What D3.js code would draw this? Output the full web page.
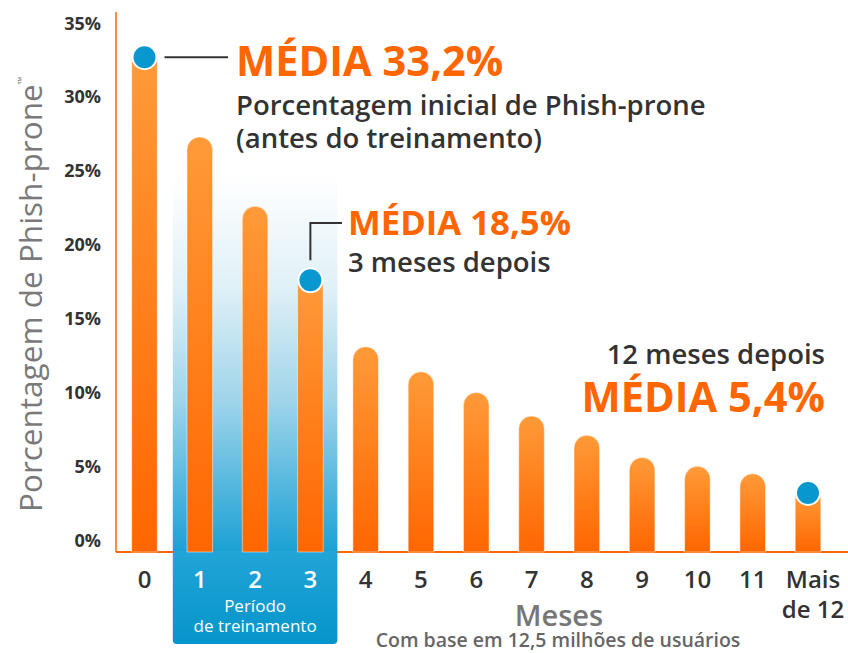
<!DOCTYPE html>
<html>
<head>
<meta charset="utf-8">
<script src="https://cdn.jsdelivr.net/npm/d3@7"></script>
<style>
  body { margin: 0; background: #fff; }
  svg { display: block; font-family: "Open Sans", sans-serif; }
</style>
</head>
<body>
<div id="chart"></div>
<script>
// Data
const months = ['0', '1', '2', '3', '4', '5', '6', '7', '8', '9', '10', '11', 'Mais de 12'];
const phishProne = [33.5, 28.1, 23.4, 18.4, 13.9, 12.2, 10.8, 9.2, 7.9, 6.4, 5.8, 5.3, 4.0];
const yTicks = [0, 5, 10, 15, 20, 25, 30, 35];
const trainingMonths = ['1', '2', '3'];
const markedMonths = ['0', '3', 'Mais de 12'];

const width = 848, height = 653;
const orange = '#ff6600';
const blue = '#0898cf';
const dark = '#333333';

const svg = d3.select('#chart')
    .append('svg')
    .attr('width', width)
    .attr('height', height);

const defs = svg.append('defs');

// bar gradient
const barGrad = defs.append('linearGradient')
    .attr('id', 'barGrad')
    .attr('x1', 0).attr('y1', 0).attr('x2', 0).attr('y2', 1);
barGrad.append('stop').attr('offset', '0%').attr('stop-color', '#ff9a38');
barGrad.append('stop').attr('offset', '100%').attr('stop-color', '#ff6600');

// scales
const x = d3.scalePoint()
    .domain(months)
    .range([144.5, 808]);
const y = d3.scaleLinear()
    .domain([0, 35])
    .range([552, 35]);

const barW = 25.6;
const baseY = y(0);

// training period highlight
const hlLeft = x('1') - 27;
const hlRight = x('3') + 27;
const hlTop = 176;

const hlGrad = defs.append('linearGradient')
    .attr('id', 'hlGrad')
    .attr('gradientUnits', 'userSpaceOnUse')
    .attr('x1', 0).attr('y1', hlTop).attr('x2', 0).attr('y2', baseY);
hlGrad.append('stop').attr('offset', '0%').attr('stop-color', '#ffffff');
hlGrad.append('stop').attr('offset', '30%').attr('stop-color', '#dff0f7');
hlGrad.append('stop').attr('offset', '60%').attr('stop-color', '#9fd4ea');
hlGrad.append('stop').attr('offset', '100%').attr('stop-color', '#1ba0d4');

svg.append('rect')
    .attr('x', hlLeft)
    .attr('y', hlTop)
    .attr('width', hlRight - hlLeft)
    .attr('height', baseY - hlTop)
    .attr('fill', 'url(#hlGrad)');

// axes lines
svg.append('line')
    .attr('x1', 116).attr('x2', 116)
    .attr('y1', 12).attr('y2', baseY)
    .attr('stroke', orange).attr('stroke-width', 1.5);
svg.append('line')
    .attr('x1', 116).attr('x2', width)
    .attr('y1', baseY).attr('y2', baseY)
    .attr('stroke', orange).attr('stroke-width', 2);

// box under the training months
const boxGrad = defs.append('linearGradient')
    .attr('id', 'boxGrad')
    .attr('x1', 0).attr('y1', 0).attr('x2', 0).attr('y2', 1);
boxGrad.append('stop').attr('offset', '0%').attr('stop-color', '#22a4d7');
boxGrad.append('stop').attr('offset', '100%').attr('stop-color', '#0595ca');

const boxBottom = 644, r = 4;
svg.append('path')
    .attr('d', `M${hlLeft},${baseY - 1} H${hlRight} V${boxBottom - r}
        Q${hlRight},${boxBottom} ${hlRight - r},${boxBottom} H${hlLeft + r}
        Q${hlLeft},${boxBottom} ${hlLeft},${boxBottom - r} Z`)
    .attr('fill', 'url(#boxGrad)');

// bars with rounded tops (flat top where a dot sits)
function barPath(d, i) {
    const cx = x(months[i]);
    const l = cx - barW / 2, rr = cx + barW / 2;
    const top = y(d);
    if (markedMonths.includes(months[i])) {
        return `M${l},${baseY} V${top} H${rr} V${baseY} Z`;
    }
    const rad = barW / 2;
    return `M${l},${baseY} V${top + rad} A${rad},${rad} 0 0 1 ${rr},${top + rad} V${baseY} Z`;
}

svg.append('g')
    .selectAll('path')
    .data(phishProne)
    .join('path')
    .attr('d', barPath)
    .attr('fill', 'url(#barGrad)')
    .attr('stroke', '#fff')
    .attr('stroke-opacity', 0.6)
    .attr('stroke-width', 0.8);

// y axis tick labels
const yAxis = svg.append('g')
    .attr('transform', 'translate(101,0)')
    .call(d3.axisLeft(y).tickValues(yTicks).tickSize(0).tickFormat(d => d + '%'));
yAxis.select('.domain').remove();
yAxis.selectAll('text')
    .attr('x', 0)
    .attr('dy', -6)
    .attr('font-family', '"Open Sans", sans-serif')
    .attr('font-size', 18)
    .attr('font-weight', 700)
    .attr('fill', dark);

// y axis title
const yTitle = svg.append('text')
    .attr('transform', 'translate(42,512) rotate(-90)')
    .attr('font-size', 31.5)
    .attr('fill', '#7a7a7a')
    .text('Porcentagem de Phish-prone');
yTitle.append('tspan')
    .attr('font-size', 10)
    .attr('dy', -17)
    .text('™');

// x tick labels
const xLabels = svg.append('g')
    .selectAll('text')
    .data(months)
    .join('text')
    .attr('y', 588)
    .attr('text-anchor', 'middle')
    .attr('font-size', 24)
    .attr('font-weight', 600)
    .attr('fill', d => trainingMonths.includes(d) ? '#fff' : dark);
xLabels.each(function(d) {
    const words = d === 'Mais de 12' ? ['Mais', 'de 12'] : [d];
    const cx = d === 'Mais de 12' ? x(d) + 5 : x(d);
    d3.select(this).selectAll('tspan')
        .data(words)
        .join('tspan')
        .attr('x', cx)
        .attr('dy', (w, i) => i === 0 ? 0 : 30)
        .text(w => w);
});

// training period label
svg.append('text')
    .attr('x', x('2'))
    .attr('y', 612)
    .attr('text-anchor', 'middle')
    .attr('font-size', 17)
    .attr('fill', '#fff')
    .selectAll('tspan')
    .data(['Período', 'de treinamento'])
    .join('tspan')
    .attr('x', x('2'))
    .attr('dy', (d, i) => i === 0 ? 0 : 20)
    .text(d => d);

// axis title and footnote
svg.append('text')
    .attr('x', 559)
    .attr('y', 626)
    .attr('text-anchor', 'middle')
    .attr('font-size', 29)
    .attr('font-weight', 600)
    .attr('fill', '#777')
    .text('Meses');
svg.append('text')
    .attr('x', 558)
    .attr('y', 647)
    .attr('text-anchor', 'middle')
    .attr('font-size', 19.5)
    .attr('font-weight', 600)
    .attr('fill', '#666')
    .text('Com base em 12,5 milhões de usuários');

// leader lines
const p0 = y(phishProne[0]);
svg.append('line')
    .attr('x1', x('0') + 20).attr('x2', 228)
    .attr('y1', p0).attr('y2', p0)
    .attr('stroke', dark).attr('stroke-width', 2);
svg.append('path')
    .attr('d', `M${x('3')},${y(phishProne[3]) - 20} V223 H342`)
    .attr('fill', 'none')
    .attr('stroke', dark).attr('stroke-width', 2);

// dots
svg.append('g')
    .selectAll('circle')
    .data(markedMonths)
    .join('circle')
    .attr('cx', d => x(d))
    .attr('cy', d => y(phishProne[months.indexOf(d)]))
    .attr('r', 12)
    .attr('fill', blue)
    .attr('stroke', '#fff')
    .attr('stroke-width', 2);

// annotations
function note(xp, yp, anchor, lines) {
    const t = svg.append('text')
        .attr('x', xp).attr('y', yp)
        .attr('text-anchor', anchor);
    t.selectAll('tspan')
        .data(lines)
        .join('tspan')
        .attr('x', xp)
        .attr('dy', d => d.dy)
        .attr('font-size', d => d.size)
        .attr('font-weight', d => d.weight)
        .attr('fill', d => d.color)
        .text(d => d.text);
}

note(236, 76, 'start', [
    {text: 'MÉDIA 33,2%', size: 41.6, weight: 700, color: orange, dy: 0},
    {text: 'Porcentagem inicial de Phish-prone', size: 27.5, weight: 600, color: dark, dy: 39},
    {text: '(antes do treinamento)', size: 27.5, weight: 600, color: dark, dy: 33}
]);
note(348, 235, 'start', [
    {text: 'MÉDIA 18,5%', size: 34.7, weight: 700, color: orange, dy: 0},
    {text: '3 meses depois', size: 27.5, weight: 600, color: dark, dy: 37}
]);
note(825, 364, 'end', [
    {text: '12 meses depois', size: 27.5, weight: 600, color: dark, dy: 0},
    {text: 'MÉDIA 5,4%', size: 41.6, weight: 700, color: orange, dy: 48}
]);
</script>
</body>
</html>
